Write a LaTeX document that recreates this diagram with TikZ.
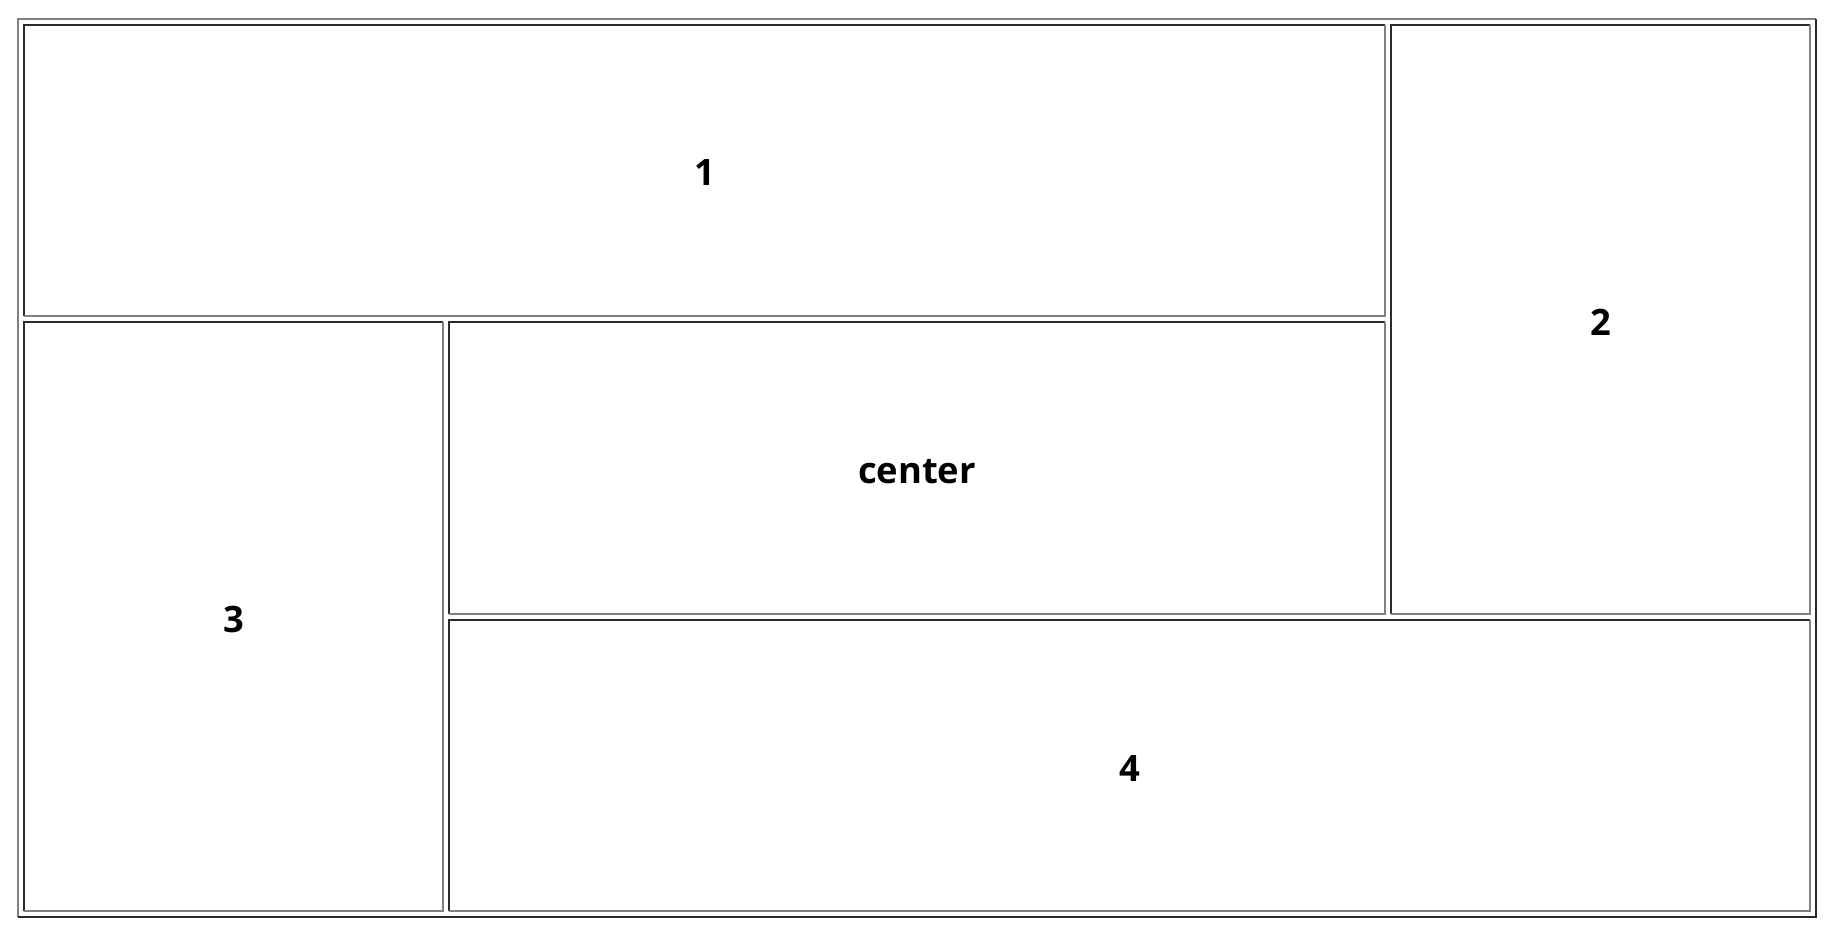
\documentclass[tikz,border=0pt]{standalone}
\usepackage{fontspec}
\setmainfont{Open Sans}
\usetikzlibrary{calc}

\definecolor{bordergrey}{RGB}{128,128,128}
\definecolor{borderdark}{RGB}{42,42,42}

\tikzset{
  cell/.style={inner sep=0pt,outer sep=0pt,text height=23.25pt,text depth=0pt,
    font=\fontsize{27.3}{32}\selectfont\bfseries},
  darkline/.style={borderdark,line width=1.5pt,line cap=square},
  greyline/.style={bordergrey,line width=1.5pt,line cap=square}
}

% inset cell: name, x1, y1, x2, y2, label
\newcommand\tablecell[6]{%
  \node[cell,minimum width={(#4-#2)*0.75pt},minimum height={(#5-#3)*0.75pt}] (#1) at ({(#2+#4)/2},{(#3+#5)/2}) {#6};
  \draw[darkline] (#1.south west) -- (#1.north west) -- (#1.north east);
  \draw[greyline] (#1.north east) -- (#1.south east) -- (#1.south west);
}

\begin{document}
\begin{tikzpicture}[x=0.75pt,y=-0.75pt]
\useasboundingbox (0,0) rectangle (1840,948);

% outer table (outset)
\node[cell,minimum width={1798*0.75pt},minimum height={898*0.75pt}] (table) at (917,468) {};
\draw[greyline] (table.south west) -- (table.north west) -- (table.north east);
\draw[darkline] (table.north east) -- (table.south east) -- (table.south west);

% cells (inset)
\tablecell{cell1}{24}{25}{1385}{316}{1}
\tablecell{cell2}{1391}{25}{1810}{614}{2}
\tablecell{cell3}{24}{322}{443}{911}{3}
\tablecell{cellc}{449}{322}{1385}{614}{center}
\tablecell{cell4}{449}{620}{1810}{911}{4}

\end{tikzpicture}
\end{document}
